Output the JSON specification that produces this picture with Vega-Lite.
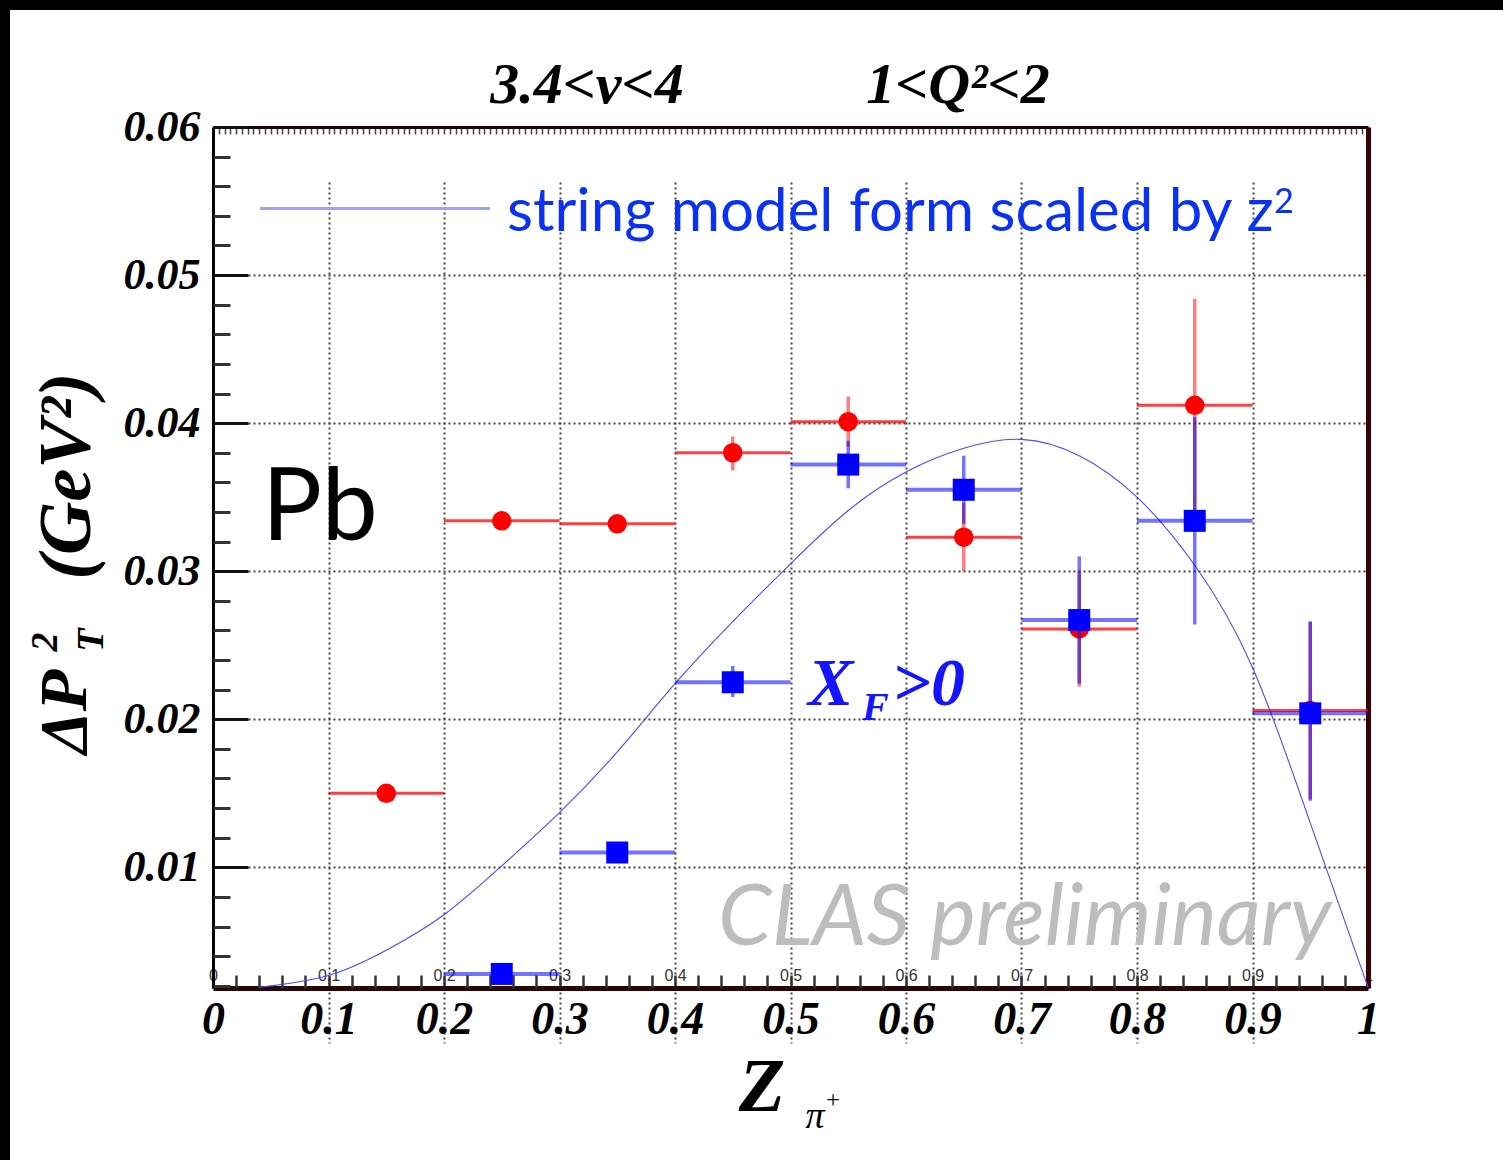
{
  "$schema": "https://vega.github.io/schema/vega-lite/v6.json",
  "width": 1493,
  "height": 1150,
  "autosize": {"type": "none"},
  "padding": {"left": 10, "top": 10, "right": 0, "bottom": 0},
  "background": "#000000",
  "config": {
    "view": {"fill": "#ffffff", "stroke": null},
    "axis": {"labelFlush": false, "labelOverlap": false, "title": null}
  },
  "datasets": {
    "curve": [
      {"z": 0.04, "f": 0.0019},
      {"z": 0.10, "f": 0.0027},
      {"z": 0.15, "f": 0.0044},
      {"z": 0.20, "f": 0.0068},
      {"z": 0.25, "f": 0.0101},
      {"z": 0.30, "f": 0.0137},
      {"z": 0.35, "f": 0.0178},
      {"z": 0.40, "f": 0.0224},
      {"z": 0.45, "f": 0.0266},
      {"z": 0.50, "f": 0.0305},
      {"z": 0.55, "f": 0.0341},
      {"z": 0.60, "f": 0.0367},
      {"z": 0.65, "f": 0.0383},
      {"z": 0.70, "f": 0.0389},
      {"z": 0.75, "f": 0.0378},
      {"z": 0.80, "f": 0.0350},
      {"z": 0.85, "f": 0.0304},
      {"z": 0.90, "f": 0.0235},
      {"z": 0.95, "f": 0.0130},
      {"z": 1.00, "f": 0.0019}
    ],
    "points": [
      {"set": "all", "z": 0.15, "zlo": 0.1, "zhi": 0.2, "v": 0.0150, "vlo": 0.0150, "vhi": 0.0150},
      {"set": "all", "z": 0.25, "zlo": 0.2, "zhi": 0.3, "v": 0.0334, "vlo": 0.0334, "vhi": 0.0334},
      {"set": "all", "z": 0.35, "zlo": 0.3, "zhi": 0.4, "v": 0.0332, "vlo": 0.0332, "vhi": 0.0332},
      {"set": "all", "z": 0.45, "zlo": 0.4, "zhi": 0.5, "v": 0.0380, "vlo": 0.0368, "vhi": 0.0391},
      {"set": "all", "z": 0.55, "zlo": 0.5, "zhi": 0.6, "v": 0.0401, "vlo": 0.0384, "vhi": 0.0418},
      {"set": "all", "z": 0.65, "zlo": 0.6, "zhi": 0.7, "v": 0.0323, "vlo": 0.0300, "vhi": 0.0346},
      {"set": "all", "z": 0.75, "zlo": 0.7, "zhi": 0.8, "v": 0.0261, "vlo": 0.0222, "vhi": 0.0300},
      {"set": "all", "z": 0.85, "zlo": 0.8, "zhi": 0.9, "v": 0.0412, "vlo": 0.0340, "vhi": 0.0484},
      {"set": "all", "z": 0.95, "zlo": 0.9, "zhi": 1.0, "v": 0.0206, "vlo": 0.0146, "vhi": 0.0266},
      {"set": "xf", "z": 0.25, "zlo": 0.2, "zhi": 0.3, "v": 0.0028, "vlo": 0.0028, "vhi": 0.0028},
      {"set": "xf", "z": 0.35, "zlo": 0.3, "zhi": 0.4, "v": 0.0110, "vlo": 0.0110, "vhi": 0.0110},
      {"set": "xf", "z": 0.45, "zlo": 0.4, "zhi": 0.5, "v": 0.0225, "vlo": 0.0215, "vhi": 0.0236},
      {"set": "xf", "z": 0.55, "zlo": 0.5, "zhi": 0.6, "v": 0.0372, "vlo": 0.0356, "vhi": 0.0388},
      {"set": "xf", "z": 0.65, "zlo": 0.6, "zhi": 0.7, "v": 0.0355, "vlo": 0.0332, "vhi": 0.0378},
      {"set": "xf", "z": 0.75, "zlo": 0.7, "zhi": 0.8, "v": 0.0267, "vlo": 0.0224, "vhi": 0.0310},
      {"set": "xf", "z": 0.85, "zlo": 0.8, "zhi": 0.9, "v": 0.0334, "vlo": 0.0264, "vhi": 0.0404},
      {"set": "xf", "z": 0.95, "zlo": 0.9, "zhi": 1.0, "v": 0.0204, "vlo": 0.0145, "vhi": 0.0266}
    ]
  },
  "resolve": {"axis": {"x": "independent", "y": "independent"}},
  "layer": [
    {
      "data": {"name": "curve"},
      "mark": {"type": "line", "color": "#4a4aff", "strokeWidth": 1.1, "interpolate": "natural"},
      "encoding": {
        "x": {
          "field": "z", "type": "quantitative",
          "scale": {"domain": [0, 1], "range": [203, 1358], "zero": false, "nice": false},
          "axis": {
            "orient": "bottom", "offset": -172,
            "values": [0, 0.1, 0.2, 0.3, 0.4, 0.5, 0.6, 0.7, 0.8, 0.9, 1],
            "format": "~g",
            "domainColor": "#2a0606", "domainWidth": 5,
            "tickSize": -13, "tickColor": "#333333", "tickWidth": 2.5,
            "labelFont": "Liberation Serif", "labelFontWeight": "bold", "labelFontStyle": "italic",
            "labelFontSize": 46, "labelColor": "#000000", "labelPadding": 22,
            "grid": false
          }
        },
        "y": {
          "field": "f", "type": "quantitative",
          "scale": {"domain": [0.00185, 0.06], "range": [978, 117], "zero": false, "nice": false},
          "axis": {
            "orient": "left", "offset": -203,
            "values": [0.01, 0.02, 0.03, 0.04, 0.05, 0.06],
            "format": ".2f",
            "domainColor": "#000000", "domainWidth": 3,
            "tickSize": -35, "tickColor": "#111111", "tickWidth": 3,
            "labelFont": "Liberation Serif", "labelFontWeight": "bold", "labelFontStyle": "italic",
            "labelFontSize": 44, "labelColor": "#000000", "labelPadding": 48,
            "grid": false
          }
        }
      }
    },
    {
      "data": {"name": "points"},
      "transform": [{"filter": "datum.set === 'all'"}],
      "mark": {"type": "rule", "color": "#ff0000", "strokeWidth": 3, "opacity": 0.75},
      "encoding": {
        "x": {
          "field": "zlo", "type": "quantitative",
          "scale": {"domain": [0, 1], "range": [203, 1358], "zero": false, "nice": false},
          "axis": {
            "orient": "top", "offset": -117,
            "tickCount": 200, "labels": false, "grid": false,
            "domainColor": "#1a0505", "domainWidth": 3,
            "tickSize": -7, "tickColor": "#444444", "tickWidth": 1.5
          }
        },
        "x2": {"field": "zhi"},
        "y": {
          "field": "v", "type": "quantitative",
          "scale": {"domain": [0.00185, 0.06], "range": [978, 117], "zero": false, "nice": false},
          "axis": {
            "orient": "right", "offset": -135,
            "ticks": false, "labels": false, "grid": false,
            "domainColor": "#3a0404", "domainWidth": 5
          }
        }
      }
    },
    {
      "data": {"name": "points"},
      "transform": [{"filter": "datum.set === 'all'"}],
      "mark": {"type": "rule", "color": "#ff0000", "strokeWidth": 3.5, "opacity": 0.5},
      "encoding": {
        "x": {
          "field": "z", "type": "quantitative",
          "scale": {"domain": [0, 1], "range": [203, 1358], "zero": false, "nice": false},
          "axis": {
            "orient": "bottom", "offset": -172,
            "values": [0.02, 0.04, 0.06, 0.08, 0.12, 0.14, 0.16, 0.18, 0.22, 0.24, 0.26, 0.28, 0.32, 0.34, 0.36, 0.38, 0.42, 0.44, 0.46, 0.48, 0.52, 0.54, 0.56, 0.58, 0.62, 0.64, 0.66, 0.68, 0.72, 0.74, 0.76, 0.78, 0.82, 0.84, 0.86, 0.88, 0.92, 0.94, 0.96, 0.98],
            "labels": false, "grid": false, "domain": false,
            "tickSize": -13, "tickColor": "#333333", "tickWidth": 2.5
          }
        },
        "y": {
          "field": "vlo", "type": "quantitative",
          "scale": {"domain": [0.00185, 0.06], "range": [978, 117], "zero": false, "nice": false},
          "axis": {
            "orient": "left", "offset": -203,
            "values": [0.002, 0.004, 0.006, 0.008, 0.012, 0.014, 0.016, 0.018, 0.022, 0.024, 0.026, 0.028, 0.032, 0.034, 0.036, 0.038, 0.042, 0.044, 0.046, 0.048, 0.052, 0.054, 0.056, 0.058],
            "labels": false, "grid": false, "domain": false,
            "tickSize": -17, "tickColor": "#333333", "tickWidth": 3
          }
        },
        "y2": {"field": "vhi"}
      }
    },
    {
      "data": {"name": "points"},
      "transform": [{"filter": "datum.set === 'all'"}],
      "mark": {"type": "point", "shape": "circle", "filled": true, "color": "#ff0000", "opacity": 1, "size": 380, "strokeWidth": 0},
      "encoding": {
        "x": {
          "field": "z", "type": "quantitative",
          "scale": {"domain": [0, 1], "range": [203, 1358], "zero": false, "nice": false},
          "axis": {
            "orient": "bottom", "offset": -195,
            "values": [0, 0.1, 0.2, 0.3, 0.4, 0.5, 0.6, 0.7, 0.8, 0.9, 1],
            "format": "~g", "ticks": false, "tickSize": 0, "domain": false, "grid": false,
            "labelFont": "Liberation Sans", "labelFontSize": 16, "labelColor": "#333333", "labelPadding": 2
          }
        },
        "y": {
          "field": "v", "type": "quantitative",
          "scale": {"domain": [0.00185, 0.06], "range": [978, 117], "zero": false, "nice": false},
          "axis": null
        }
      }
    },
    {
      "data": {"name": "points"},
      "transform": [{"filter": "datum.set === 'xf'"}],
      "mark": {"type": "rule", "color": "#0000ff", "strokeWidth": 4, "opacity": 0.55},
      "encoding": {
        "x": {
          "field": "zlo", "type": "quantitative",
          "scale": {"domain": [0, 1], "range": [203, 1358], "zero": false, "nice": false},
          "axis": {
            "orient": "bottom", "offset": 0,
            "values": [0.1, 0.2, 0.3, 0.4, 0.5, 0.6, 0.7, 0.8, 0.9],
            "domain": false, "ticks": false, "labels": false,
            "grid": true, "gridColor": "#444444", "gridDash": [2, 3], "gridWidth": 2
          }
        },
        "x2": {"field": "zhi"},
        "y": {
          "field": "v", "type": "quantitative",
          "scale": {"domain": [0.00185, 0.06], "range": [978, 117], "zero": false, "nice": false},
          "axis": {
            "orient": "left", "offset": 0,
            "values": [0.01, 0.02, 0.03, 0.04, 0.05],
            "domain": false, "ticks": false, "labels": false,
            "grid": true, "gridColor": "#444444", "gridDash": [2, 3], "gridWidth": 2
          }
        }
      }
    },
    {
      "data": {"name": "points"},
      "transform": [{"filter": "datum.set === 'xf'"}],
      "mark": {"type": "rule", "color": "#0000ff", "strokeWidth": 3.5, "opacity": 0.55},
      "encoding": {
        "x": {"field": "z", "type": "quantitative", "scale": {"domain": [0, 1], "range": [203, 1358], "zero": false, "nice": false}, "axis": null},
        "y": {"field": "vlo", "type": "quantitative", "scale": {"domain": [0.00185, 0.06], "range": [978, 117], "zero": false, "nice": false}, "axis": null},
        "y2": {"field": "vhi"}
      }
    },
    {
      "data": {"name": "points"},
      "transform": [{"filter": "datum.set === 'xf'"}],
      "mark": {"type": "point", "shape": "square", "filled": true, "color": "#0000ff", "opacity": 1, "size": 484, "strokeWidth": 0},
      "encoding": {
        "x": {"field": "z", "type": "quantitative", "scale": {"domain": [0, 1], "range": [203, 1358], "zero": false, "nice": false}, "axis": null},
        "y": {"field": "v", "type": "quantitative", "scale": {"domain": [0.00185, 0.06], "range": [978, 117], "zero": false, "nice": false}, "axis": null}
      }
    },
    {
      "data": {"values": [{"z": 0.0407, "z2": 0.2398, "v": 0.0545}]},
      "mark": {"type": "rule", "color": "#9aa4f4", "strokeWidth": 3},
      "encoding": {
        "x": {"field": "z", "type": "quantitative", "axis": null},
        "x2": {"field": "z2"},
        "y": {"field": "v", "type": "quantitative", "axis": null}
      }
    },
    {
      "data": {"values": [{"z": 0.2545, "v": 0.0530, "t": "string model form scaled by z"}]},
      "mark": {"type": "text", "align": "left", "baseline": "alphabetic", "font": "Lato", "fontSize": 60, "color": "#0a32f0"},
      "encoding": {
        "x": {"field": "z", "type": "quantitative", "axis": null},
        "y": {"field": "v", "type": "quantitative", "axis": null},
        "text": {"field": "t"}
      }
    },
    {
      "data": {"values": [{"z": 0.9186, "v": 0.0542, "t": "2"}]},
      "mark": {"type": "text", "align": "left", "baseline": "alphabetic", "font": "Lato", "fontSize": 34, "color": "#0a32f0"},
      "encoding": {
        "x": {"field": "z", "type": "quantitative", "axis": null},
        "y": {"field": "v", "type": "quantitative", "axis": null},
        "text": {"field": "t"}
      }
    },
    {
      "data": {"values": [{"z": 0.3238, "t": "3.4<ν<4"}, {"z": 0.6450, "t": "1<Q²<2"}]},
      "mark": {"type": "text", "align": "center", "baseline": "alphabetic", "font": "Liberation Serif", "fontWeight": "bold", "fontStyle": "italic", "fontSize": 58, "color": "#000000"},
      "encoding": {
        "x": {"field": "z", "type": "quantitative", "axis": null},
        "y": {"datum": 0.0616, "type": "quantitative", "axis": null},
        "text": {"field": "t"}
      }
    },
    {
      "data": {"values": [{"z": 0.0926, "v": 0.0321, "t": "Pb"}]},
      "mark": {"type": "text", "align": "center", "baseline": "alphabetic", "font": "Lato", "fontSize": 100, "color": "#000000"},
      "encoding": {
        "x": {"field": "z", "type": "quantitative", "axis": null},
        "y": {"field": "v", "type": "quantitative", "axis": null},
        "text": {"field": "t"}
      }
    },
    {
      "data": {"values": [{"z": 0.5152, "v": 0.02096, "t": "X"}, {"z": 0.5880, "v": 0.02096, "t": ">0"}]},
      "mark": {"type": "text", "align": "left", "baseline": "alphabetic", "font": "Liberation Serif", "fontWeight": "bold", "fontStyle": "italic", "fontSize": 68, "color": "#1414ff"},
      "encoding": {
        "x": {"field": "z", "type": "quantitative", "axis": null},
        "y": {"field": "v", "type": "quantitative", "axis": null},
        "text": {"field": "t"}
      }
    },
    {
      "data": {"values": [{"z": 0.5619, "v": 0.01995, "t": "F"}]},
      "mark": {"type": "text", "align": "left", "baseline": "alphabetic", "font": "Liberation Serif", "fontWeight": "bold", "fontStyle": "italic", "fontSize": 40, "color": "#1414ff"},
      "encoding": {
        "x": {"field": "z", "type": "quantitative", "axis": null},
        "y": {"field": "v", "type": "quantitative", "axis": null},
        "text": {"field": "t"}
      }
    },
    {
      "data": {"values": [{"z": 0.4372, "v": 0.00475, "t": "CLAS preliminary"}]},
      "mark": {"type": "text", "align": "left", "baseline": "alphabetic", "font": "Lato", "fontStyle": "italic", "fontSize": 86, "color": "#bdbdbd"},
      "encoding": {
        "x": {"field": "z", "type": "quantitative", "axis": null},
        "y": {"field": "v", "type": "quantitative", "axis": null},
        "text": {"field": "t"}
      }
    },
    {
      "data": {"values": [{"z": 0.4753, "v": -0.0049, "t": "Z"}]},
      "mark": {"type": "text", "align": "center", "baseline": "middle", "font": "Liberation Serif", "fontWeight": "bold", "fontStyle": "italic", "fontSize": 76, "color": "#000000"},
      "encoding": {
        "x": {"field": "z", "type": "quantitative", "axis": null},
        "y": {"field": "v", "type": "quantitative", "axis": null},
        "text": {"field": "t"}
      }
    },
    {
      "data": {"values": [{"z": 0.5212, "v": -0.00686, "t": "π"}]},
      "mark": {"type": "text", "align": "center", "baseline": "middle", "font": "Liberation Serif", "fontStyle": "italic", "fontSize": 38, "color": "#000000"},
      "encoding": {
        "x": {"field": "z", "type": "quantitative", "axis": null},
        "y": {"field": "v", "type": "quantitative", "axis": null},
        "text": {"field": "t"}
      }
    },
    {
      "data": {"values": [{"z": 0.5368, "v": -0.00571, "t": "+"}]},
      "mark": {"type": "text", "align": "center", "baseline": "middle", "font": "Liberation Serif", "fontSize": 24, "color": "#000000"},
      "encoding": {
        "x": {"field": "z", "type": "quantitative", "axis": null},
        "y": {"field": "v", "type": "quantitative", "axis": null},
        "text": {"field": "t"}
      }
    },
    {
      "data": {"values": [{"z": -0.1275, "v": 0.02050, "t": "ΔP"}]},
      "mark": {"type": "text", "align": "center", "baseline": "middle", "angle": 270, "font": "Liberation Serif", "fontWeight": "bold", "fontStyle": "italic", "fontSize": 68, "color": "#000000"},
      "encoding": {
        "x": {"field": "z", "type": "quantitative", "axis": null},
        "y": {"field": "v", "type": "quantitative", "axis": null},
        "text": {"field": "t"}
      }
    },
    {
      "data": {"values": [{"z": -0.1255, "v": 0.03642, "t": "(GeV²)"}]},
      "mark": {"type": "text", "align": "center", "baseline": "middle", "angle": 270, "font": "Liberation Serif", "fontWeight": "bold", "fontStyle": "italic", "fontSize": 74, "color": "#000000"},
      "encoding": {
        "x": {"field": "z", "type": "quantitative", "axis": null},
        "y": {"field": "v", "type": "quantitative", "axis": null},
        "text": {"field": "t"}
      }
    },
    {
      "data": {"values": [{"z": -0.1446, "v": 0.02521, "t": "2"}, {"z": -0.1048, "v": 0.02535, "t": "T"}]},
      "mark": {"type": "text", "align": "center", "baseline": "middle", "angle": 270, "font": "Liberation Serif", "fontWeight": "bold", "fontStyle": "italic", "fontSize": 38, "color": "#000000"},
      "encoding": {
        "x": {"field": "z", "type": "quantitative", "axis": null},
        "y": {"field": "v", "type": "quantitative", "axis": null},
        "text": {"field": "t"}
      }
    }
  ]
}
